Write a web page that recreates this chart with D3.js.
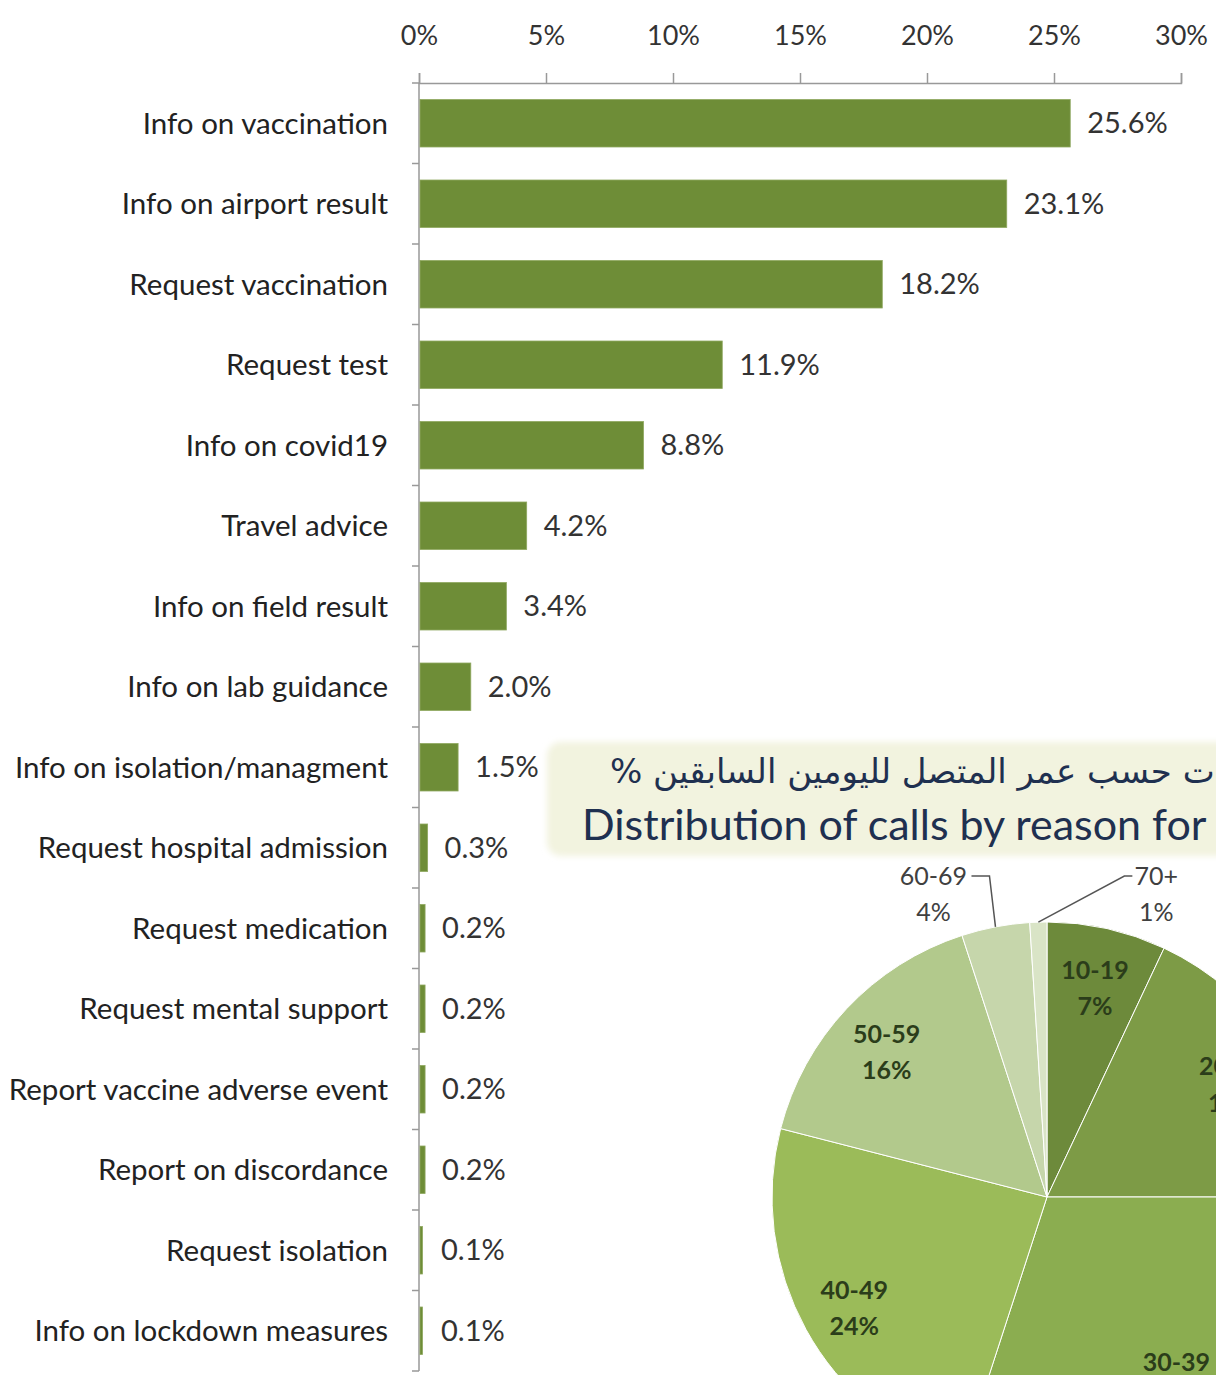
<!DOCTYPE html>
<html><head><meta charset="utf-8">
<script src="https://cdn.jsdelivr.net/npm/d3@7"></script>
<style>
html,body{margin:0;padding:0;background:#fff;overflow:hidden;}
svg{display:block;}
</style></head>
<body>
<svg id="c" width="1216" height="1375"></svg>
<script>
const categories = ["Info on vaccination","Info on airport result","Request vaccination","Request test","Info on covid19","Travel advice","Info on field result","Info on lab guidance","Info on isolation/managment","Request hospital admission","Request medication","Request mental support","Report vaccine adverse event","Report on discordance","Request isolation","Info on lockdown measures"];
const values = [25.6,23.1,18.2,11.9,8.8,4.2,3.4,2.0,1.5,0.3,0.2,0.2,0.2,0.2,0.1,0.1];
const xTicks = [0,5,10,15,20,25,30];

const ageGroups = ["10-19","20-29","30-39","40-49","50-59","60-69","70+"];
const agePct = [7,18,30,24,16,4,1];
const ageColors = ["#6d8a3b","#7d9b46","#8bad50","#9bbb59","#b2c98c","#c6d6ab","#d9e4c6"];

const titleAr = "توزيع المكالمات حسب عمر المتصل لليومين السابقين %";
const titleEn = "Distribution of calls by reason for";

const svg = d3.select("#c");
const FONT = "Lato, 'Open Sans', sans-serif";

// ---- bar chart ----
const x = d3.scaleLinear().domain([0,30]).range([419,1181]);
const y = d3.scaleBand().domain(categories).range([83,1371]).paddingInner(0.41).paddingOuter(0.205);

const gx = svg.append("g").attr("transform","translate(0,83)")
  .call(d3.axisTop(x).tickValues(xTicks).tickFormat(d=>d+"%").tickSize(10).tickPadding(28));
gx.select(".domain").attr("stroke","#999").attr("stroke-width",1.5);
gx.selectAll(".tick line").attr("stroke","#999").attr("stroke-width",1.5);
gx.selectAll(".tick text").attr("font-family",FONT).attr("font-size",27).attr("fill","#333");

// y axis
svg.append("line").attr("x1",419).attr("x2",419).attr("y1",83).attr("y2",1371).attr("stroke","#999").attr("stroke-width",1.5);
const step = y.step();
const bounds = categories.map((c,i)=> y(c) - y.paddingInner()*step/2);
bounds.push(y(categories[categories.length-1]) + y.bandwidth() + y.paddingInner()*step/2);
svg.selectAll(".ytick").data(bounds).join("line").attr("class","ytick")
  .attr("x1",412).attr("x2",419).attr("y1",d=>d).attr("y2",d=>d).attr("stroke","#999").attr("stroke-width",1.5);

svg.selectAll(".bar").data(values).join("rect").attr("class","bar")
  .attr("x",x(0)+1).attr("y",(d,i)=>y(categories[i]))
  .attr("width",d=>Math.max(1.5,x(d)-x(0))).attr("height",y.bandwidth())
  .attr("fill","#6e8d37").attr("stroke","#8fa860").attr("stroke-width",0.8);

svg.selectAll(".cat").data(categories).join("text").attr("class","cat")
  .attr("x",388).attr("y",d=>y(d)+y.bandwidth()/2).attr("dy","0.35em")
  .attr("text-anchor","end").attr("font-family",FONT).attr("font-size",29.5).attr("fill","#222")
  .text(d=>d);

svg.selectAll(".val").data(values).join("text").attr("class","val")
  .attr("x",d=>Math.max(x(d),x(0)+4)+18).attr("y",(d,i)=>y(categories[i])+y.bandwidth()/2).attr("dy","0.35em")
  .attr("font-family",FONT).attr("font-size",29).attr("fill","#333")
  .text(d=>d.toFixed(1)+"%");

// ---- title box ----
const defs = svg.append("defs");
const f = defs.append("filter").attr("id","soft").attr("x","-5%").attr("y","-20%").attr("width","110%").attr("height","140%");
f.append("feGaussianBlur").attr("stdDeviation",3);
svg.append("rect").attr("x",547).attr("y",742).attr("width",700).attr("height",114).attr("rx",14)
  .attr("fill","#f2f3df").attr("filter","url(#soft)");
svg.append("text").attr("x",610).attr("y",783).attr("direction","rtl").attr("text-anchor","end")
  .attr("font-family","'DejaVu Sans', sans-serif").attr("font-size",34).attr("fill","#1f3050").text(titleAr);
svg.append("text").attr("x",582).attr("y",840)
  .attr("font-family",FONT).attr("font-size",43).attr("fill","#1f3050").text(titleEn);

// ---- pie ----
const cx = 1047, cy = 1197, R = 275, LR = 220;
const pie = d3.pie().sort(null).value(d=>d)(agePct);
const arc = d3.arc().innerRadius(0).outerRadius(R);
const labArc = d3.arc().innerRadius(LR).outerRadius(LR);
const gp = svg.append("g").attr("transform",`translate(${cx},${cy})`);
gp.selectAll("path").data(pie).join("path").attr("d",arc)
  .attr("fill",(d,i)=>ageColors[i]).attr("stroke","#fff").attr("stroke-width",1);

const inside = pie.filter((d,i)=>agePct[i]>=5);
const gl = gp.selectAll(".pl").data(inside).join("text").attr("class","pl")
  .attr("transform",d=>`translate(${labArc.centroid(d)})`)
  .attr("text-anchor","middle").attr("font-family",FONT).attr("font-weight","bold")
  .attr("font-size",25).attr("fill","#2b3d1a");
gl.append("tspan").attr("x",0).attr("dy","-0.15em").text(d=>ageGroups[d.index]);
gl.append("tspan").attr("x",0).attr("dy","1.45em").text(d=>agePct[d.index]+"%");

// outside labels (60-69 to the left, 70+ to the right)
const outside = pie.filter((d,i)=>agePct[i]<5);
outside.forEach((d,k)=>{
  const a = (d.startAngle+d.endAngle)/2;
  const px = Math.sin(a)*R, py = -Math.cos(a)*R;
  const ly = -321; // label row above pie
  const left = k===0;
  const elbowX = left ? px-6 : px+86;
  const endX = left ? elbowX-18 : elbowX+8;
  gp.append("path").attr("d",`M${px},${py}L${elbowX},${ly}L${endX},${ly}`)
    .attr("fill","none").attr("stroke","#555").attr("stroke-width",1.5);
  const lx = left?endX-38:endX+24;
  const t = gp.append("text").attr("x",lx).attr("y",ly)
    .attr("text-anchor","middle").attr("font-family",FONT).attr("font-size",25).attr("fill","#404040");
  t.append("tspan").attr("x",lx).attr("dy","0.35em").text(ageGroups[d.index]);
  t.append("tspan").attr("x",lx).attr("dy","1.45em").text(agePct[d.index]+"%");
});
</script>
</body></html>
